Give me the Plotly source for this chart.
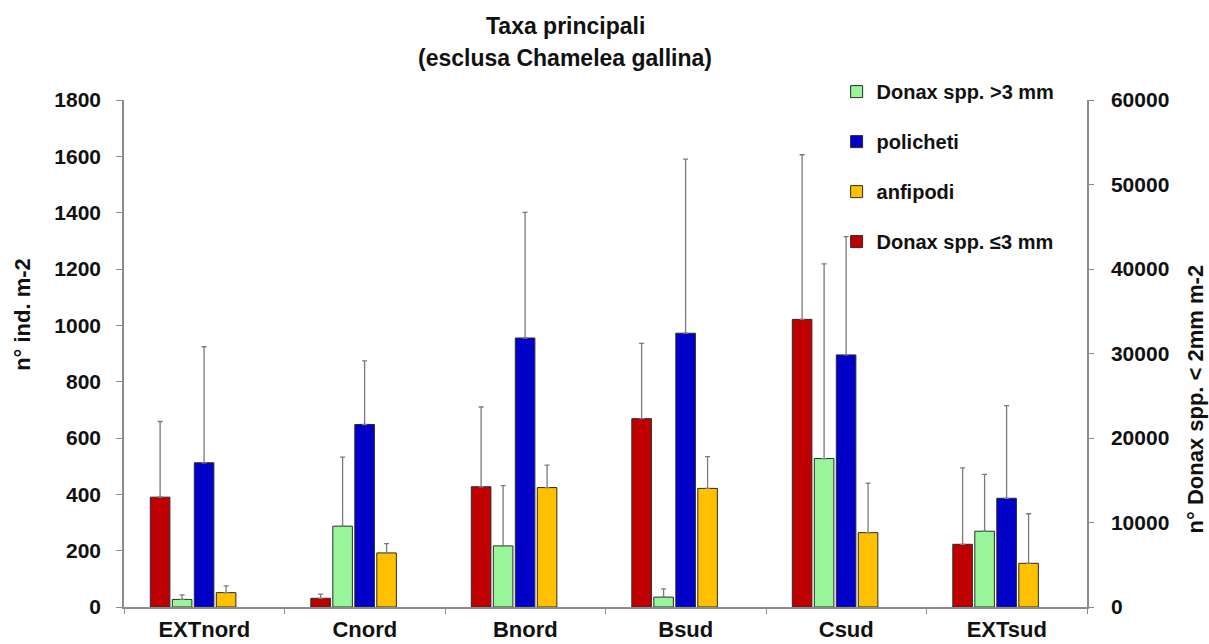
import plotly.graph_objects as go

# Sampling stations
stations = ["EXTnord", "Cnord", "Bnord", "Bsud", "Csud", "EXTsud"]

# Mean densities (n° ind. m-2) and standard deviations
donax_small = [13000, 1030, 14230, 22290, 34040, 7420]      # Donax spp. <=3 mm (right axis)
donax_small_sd = [8950, 500, 9440, 8910, 19480, 9050]

donax_large = [27, 287, 217, 35, 527, 269]                  # Donax spp. >3 mm
donax_large_sd = [16, 245, 214, 29, 691, 202]

policheti = [512, 648, 955, 972, 895, 386]
policheti_sd = [412, 226, 446, 618, 420, 329]

anfipodi = [51, 192, 424, 421, 264, 155]
anfipodi_sd = [24, 33, 80, 113, 176, 176]

title_lines = ["Taxa principali", "(esclusa Chamelea gallina)"]

FONT = "Liberation Sans, Arial, sans-serif"
INK = "#111111"
BAR_W = 0.122
AXIS_GREY = "#8c8c8c"
ERR_GREY = "#7a7a7a"


def bar(name, values, sd, color, offset, rank, yaxis="y"):
    return go.Bar(
        x=stations,
        y=values,
        name=name,
        yaxis=yaxis,
        width=BAR_W,
        offset=offset,
        marker=dict(color=color, line=dict(color="#2a2a2a", width=1)),
        error_y=dict(
            type="data", array=sd, arrayminus=[0] * len(sd), symmetric=False,
            color=ERR_GREY, thickness=1.3, width=2.5,
        ),
        legendrank=rank,
        legendgroup=name,
    )


fig = go.Figure()
fig.add_trace(bar("Donax spp. ≤3 mm", donax_small, donax_small_sd, "#C00000", -0.336, 4, "y2"))
fig.add_trace(bar("Donax spp. >3 mm", donax_large, donax_large_sd, "#99F599", -0.199, 1))
fig.add_trace(bar("policheti", policheti, policheti_sd, "#0000C8", -0.062, 2))
fig.add_trace(bar("anfipodi", anfipodi, anfipodi_sd, "#FFC000", 0.075, 3))

tick_font = dict(family=FONT, size=21, color=INK, weight="bold")


def text_note(text, x, y, size, angle=0):
    return dict(
        text=text, textangle=angle,
        xref="paper", yref="paper", x=x, y=y,
        xanchor="center", yanchor="middle", showarrow=False,
        font=dict(family=FONT, size=size, color=INK, weight="bold"),
    )


fig.update_layout(
    width=1209,
    height=644,
    margin=dict(l=124, r=122, t=100, b=37, autoexpand=False),
    paper_bgcolor="white",
    plot_bgcolor="white",
    barmode="overlay",
    showlegend=True,
    xaxis=dict(
        type="category", automargin=False,
        showline=True, linecolor=AXIS_GREY, linewidth=1.5,
        ticks="outside", tickson="boundaries", ticklen=5, tickcolor=AXIS_GREY,
        ticklabelstandoff=2,
        tickfont=dict(family=FONT, size=22, color=INK, weight="bold"),
        showgrid=False, zeroline=False,
    ),
    yaxis=dict(
        range=[0, 1800], dtick=200, automargin=False,
        showline=True, linecolor=AXIS_GREY, linewidth=1.5,
        ticks="outside", ticklen=6, tickcolor=AXIS_GREY,
        ticklabelstandoff=11,
        tickfont=tick_font, showgrid=False, zeroline=False,
    ),
    yaxis2=dict(
        range=[0, 60000], dtick=10000, tickformat="d", automargin=False,
        overlaying="y", side="right",
        showline=True, linecolor=AXIS_GREY, linewidth=1.5,
        ticks="outside", ticklen=5, tickcolor=AXIS_GREY,
        ticklabelstandoff=13,
        tickfont=tick_font, showgrid=False, zeroline=False,
    ),
    legend=dict(
        x=0.74, xanchor="left", y=1.055, yanchor="top",
        bgcolor="rgba(0,0,0,0)",
        font=dict(family=FONT, size=20, color=INK, weight="bold"),
        tracegroupgap=21,
        itemwidth=30,
    ),
    annotations=[
        text_note(title_lines[0], 0.458, 1.146, 23),
        text_note(title_lines[1], 0.458, 1.083, 23),
        text_note("n° ind. m-2", -0.105, 0.578, 22, -90),
        text_note("n° Donax spp. < 2mm m-2", 1.1125, 0.41, 22, -90),
    ],
)

fig.write_html("out.html")
